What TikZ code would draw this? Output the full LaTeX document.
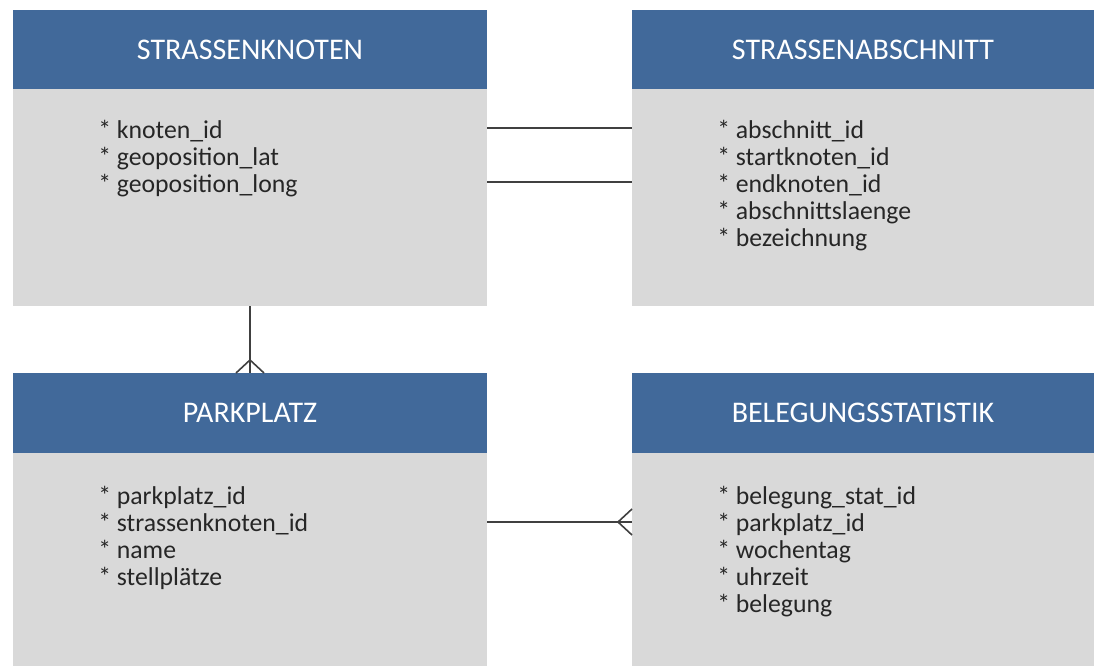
\documentclass[tikz,border=0pt]{standalone}
\usepackage{fontspec}
\setmainfont{Carlito}
\usetikzlibrary{calc}
\definecolor{hdrblue}{HTML}{41699A}
\definecolor{bodygray}{HTML}{D9D9D9}
\definecolor{linegray}{HTML}{404040}
\definecolor{txt}{HTML}{262626}
\begin{document}
\begin{tikzpicture}[x=0.75pt,y=-0.75pt,
 hdr/.style={fill=hdrblue, text=white, font=\fontsize{22.5}{26}\selectfont, anchor=north west, inner sep=0pt, outer sep=0pt},
 bodybox/.style={fill=bodygray, anchor=north west, inner sep=0pt, outer sep=0pt},
 attrs/.style={anchor=north west, align=left, text=txt, inner sep=0pt, font=\fontsize{19.3}{20.25}\selectfont},
 rel/.style={draw=linegray, line width=1.2pt}]
\useasboundingbox[fill=white] (0,0) rectangle (1094,666);

% STRASSENKNOTEN
\node[hdr, minimum width=355.5pt, minimum height=59.25pt] (skh) at (13,10) {STRASSENKNOTEN};
\node[bodybox, minimum width=355.5pt, minimum height=162.75pt] (skb) at (13,89) {};
\node[attrs] (ska) at (98,120) {* knoten\_id\\* geoposition\_lat\\* geoposition\_long};

% STRASSENABSCHNITT
\node[hdr, minimum width=346.5pt, minimum height=59.25pt] (sah) at (632,10) {STRASSENABSCHNITT};
\node[bodybox, minimum width=346.5pt, minimum height=162.75pt] (sab) at (632,89) {};
\node[attrs] (saa) at (717,120) {* abschnitt\_id\\* startknoten\_id\\* endknoten\_id\\* abschnittslaenge\\* bezeichnung};

% PARKPLATZ
\node[hdr, minimum width=355.5pt, minimum height=60pt] (pkh) at (13,373) {PARKPLATZ};
\node[bodybox, minimum width=355.5pt, minimum height=159.75pt] (pkb) at (13,453) {};
\node[attrs] (pka) at (98,486) {* parkplatz\_id\\* strassenknoten\_id\\* name\\* stellplätze};

% BELEGUNGSSTATISTIK
\node[hdr, minimum width=346.5pt, minimum height=60pt] (bsh) at (632,373) {BELEGUNGSSTATISTIK};
\node[bodybox, minimum width=346.5pt, minimum height=159.75pt] (bsb) at (632,453) {};
\node[attrs] (bsa) at (717,486) {* belegung\_stat\_id\\* parkplatz\_id\\* wochentag\\* uhrzeit\\* belegung};

% relations
\draw[rel] (skb.east |- 0,128) -- (sab.west |- 0,128);
\draw[rel] (skb.east |- 0,182) -- (sab.west |- 0,182);
\draw[rel] (skb.south -| 250,0) -- (pkh.north -| 250,0);
\draw[rel] ($(pkh.north -| 250,0)+(-14,0)$) -- ($(pkh.north -| 250,0)+(0,-13)$) -- ($(pkh.north -| 250,0)+(14,0)$);
\draw[rel] (pkb.east |- 0,522) -- (bsb.west |- 0,522);
\draw[rel] ($(bsb.west |- 0,522)+(0,-13)$) -- ($(bsb.west |- 0,522)+(-14,0)$) -- ($(bsb.west |- 0,522)+(0,13)$);
\end{tikzpicture}
\end{document}
